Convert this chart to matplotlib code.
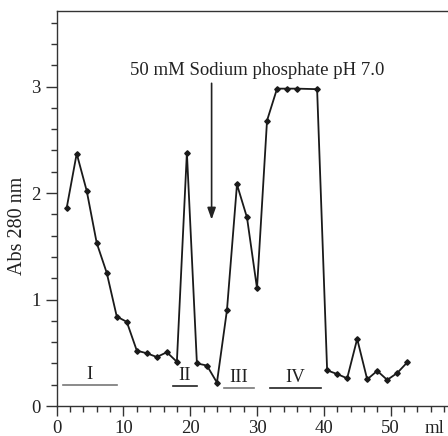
import matplotlib
matplotlib.use("Agg")
import matplotlib.pyplot as plt
from matplotlib.ticker import MultipleLocator

# Data (elution volume in ml, absorbance at 280 nm)
volume = [1.5, 3.0, 4.5, 6.0, 7.5, 9.0, 10.5, 12.0, 13.5, 15.0, 16.5, 18.0,
          19.5, 21.0, 22.5, 24.0, 25.5, 27.0, 28.5, 30.0, 31.5, 33.0, 34.5,
          36.0, 39.0, 40.5, 42.0, 43.5, 45.0, 46.5, 48.0, 49.5, 51.0, 52.5]
absorbance = [1.86, 2.37, 2.02, 1.53, 1.25, 0.84, 0.79, 0.52, 0.495, 0.46,
              0.505, 0.415, 2.38, 0.40, 0.38, 0.22, 0.90, 2.08, 1.77, 1.105,
              2.68, 2.98, 2.98, 2.98, 2.975, 0.335, 0.30, 0.26, 0.63, 0.25,
              0.33, 0.245, 0.31, 0.41]

# Fraction pools
fraction_labels = ["I", "II", "III", "IV"]
fraction_start = [0.9, 17.4, 25.0, 31.9]
fraction_end = [9.0, 21.0, 29.6, 39.6]
fraction_y = [0.195, 0.19, 0.17, 0.17]
fraction_colors = ["#777777", "#222222", "#777777", "#222222"]

annotation_text = "50 mM Sodium phosphate pH 7.0"
arrow_x = 23.2
arrow_top = 3.03
arrow_tip = 1.75

plt.rcParams['font.family'] = ['Liberation Serif', 'DejaVu Serif']

FS = 13.5
XPAD = 3.0
XTL = 7

fig = plt.figure(figsize=(4.48, 4.36), dpi=100)
ax = fig.add_axes([56.67 / 448, 1 - 406 / 436, 1 - 56.67 / 448, (406 - 11) / 436])

ax.plot(volume, absorbance, color="#1a1a1a", lw=1.3, marker="D", ms=2.8,
        mfc="#1a1a1a", mec="#1a1a1a")

for lab, s, e, y, c in zip(fraction_labels, fraction_start, fraction_end,
                            fraction_y, fraction_colors):
    ax.plot([s, e], [y, y], color=c, lw=1.2)
    ax.text((s + e) / 2, y + 0.02, lab, ha="center", va="bottom",
            fontsize=FS, color="#222222")

ax.annotate("", xy=(arrow_x, arrow_tip), xytext=(arrow_x, arrow_top),
            arrowprops=dict(arrowstyle="-|>,head_length=0.7,head_width=0.25",
                            color="#222222", lw=1.2, shrinkA=0, shrinkB=0))
ax.text(29.96, 3.11, annotation_text, ha="center", va="baseline",
        fontsize=FS, color="#222222")

ax.set_xlim(0, 58.6)
ax.set_ylim(0, 3.709)
ax.xaxis.set_major_locator(MultipleLocator(10))
ax.xaxis.set_minor_locator(MultipleLocator(2))
ax.yaxis.set_major_locator(MultipleLocator(1))
ax.yaxis.set_minor_locator(MultipleLocator(0.2))
ax.set_xticks([0, 10, 20, 30, 40, 50])
ax.tick_params(which="major", direction="out", length=8, width=1,
               labelsize=FS, color="#333333", labelcolor="#222222")
ax.tick_params(which="minor", direction="out", length=4.5, width=1,
               color="#333333")
ax.tick_params(axis="x", which="major", length=XTL, pad=XPAD)
ax.spines["right"].set_visible(False)
for sp in ["left", "bottom", "top"]:
    ax.spines[sp].set_color("#333333")
    ax.spines[sp].set_linewidth(1)

ax.set_ylabel("Abs 280 nm", fontsize=14.5, color="#222222")
ax.yaxis.set_label_coords(-0.075, 0.456)
ax.annotate("ml", xy=(56.6, 0), xycoords="data", xytext=(0, -(XTL + XPAD)),
            textcoords="offset points", ha="center", va="top",
            fontsize=FS, color="#222222")

fig.savefig("out.png", dpi=100)
